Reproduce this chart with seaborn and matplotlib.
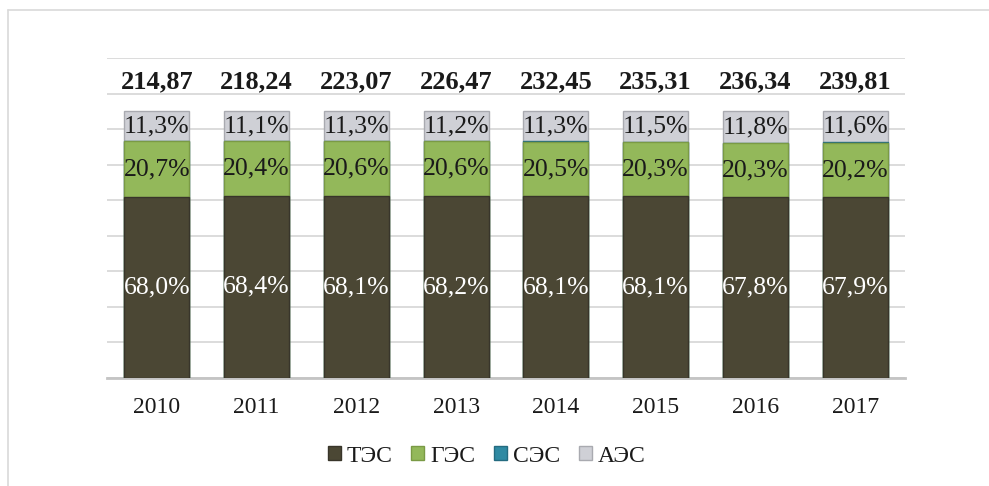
import numpy as np
import pandas as pd
import matplotlib
matplotlib.use("Agg")
import matplotlib.pyplot as plt
from matplotlib.patches import Patch
from matplotlib.lines import Line2D
import seaborn as sns

# data
years = ["2010", "2011", "2012", "2013", "2014", "2015", "2016", "2017"]
totals = ["214,87", "218,24", "223,07", "226,47", "232,45", "235,31", "236,34", "239,81"]
tes = [68.0, 68.4, 68.1, 68.2, 68.1, 68.1, 67.8, 67.9]
ges = [20.7, 20.4, 20.6, 20.6, 20.5, 20.3, 20.3, 20.2]
ses = [0.0, 0.1, 0.0, 0.0, 0.1, 0.1, 0.1, 0.3]
aes = [11.3, 11.1, 11.3, 11.2, 11.3, 11.5, 11.8, 11.6]
series_names = ["ТЭС", "ГЭС", "СЭС", "АЭС"]

colors = {"ТЭС": "#4b4734", "ГЭС": "#93b85a", "СЭС": "#2f8aa3", "АЭС": "#cfd0d6"}
edges = {"ТЭС": "#38352a", "ГЭС": "#7a9a45", "СЭС": "#246b80", "АЭС": "#a9aab0"}

df = pd.DataFrame({"year": years, "ТЭС": tes, "ГЭС": ges, "СЭС": ses, "АЭС": aes})
for c in series_names:
    df[c] = df[c] / 100
# cumulative tops for stacking
df["c_tes"] = df["ТЭС"]
df["c_ges"] = df["c_tes"] + df["ГЭС"]
df["c_ses"] = df["c_ges"] + df["СЭС"]
df["c_aes"] = df["c_ses"] + df["АЭС"]
# scale so each bar fills exactly 100%
s = df["c_aes"]
for c in ["c_tes", "c_ges", "c_ses", "c_aes"]:
    df[c] = df[c] / s

sns.set_style("white")
plt.rcParams["font.family"] = ["Liberation Serif", "DejaVu Serif"]

fig = plt.figure(figsize=(9.89, 4.86), dpi=100)
ax = fig.add_axes([107 / 989, 1 - 378 / 486, (905 - 107) / 989, (378 - 58) / 486])

for col, name in [("c_aes", "АЭС"), ("c_ses", "СЭС"), ("c_ges", "ГЭС"), ("c_tes", "ТЭС")]:
    sns.barplot(data=df, x="year", y=col, color=colors[name], saturation=1,
                width=0.65, errorbar=None, edgecolor=edges[name], linewidth=1,
                ax=ax, zorder=3)

ax.set_ylim(0, 1.2)
ax.set_xlim(-0.5, len(years) - 0.5)
ax.set_yticks(np.linspace(0, 1.2, 10))
ax.set_yticklabels([])
ax.tick_params(axis="y", length=0)
ax.tick_params(axis="x", length=0, labelsize=17, pad=14, colors="#1a1a1a")
ax.grid(axis="y", color="#d9d9d9", linewidth=1.3, zorder=0)
ax.set_xlabel("")
ax.set_ylabel("")
for sp in ["top", "left", "right"]:
    ax.spines[sp].set_visible(False)
ax.spines["bottom"].set_color("#c4c4c4")
ax.spines["bottom"].set_linewidth(2)

def fmt(v):
    return f"{v:.1f}%".replace(".", ",")

for i in range(len(years)):
    t, g, a = df.loc[i, "c_tes"], df.loc[i, "c_ges"], df.loc[i, "c_aes"]
    ax.text(i, t / 2, fmt(tes[i]), ha="center", va="center", color="white", fontsize=18.5, zorder=5)
    ax.text(i, (t + g) / 2, fmt(ges[i]), ha="center", va="center", color="#1a1a1a", fontsize=18.5, zorder=5)
    ax.text(i, (df.loc[i, "c_ses"] + a) / 2, fmt(aes[i]), ha="center", va="center", color="#1a1a1a", fontsize=18.5, zorder=5)
    ax.text(i, 1.11, totals[i], ha="center", va="center", color="#1a1a1a", fontsize=19, fontweight="bold", zorder=5)

handles = [Patch(facecolor=colors[n], edgecolor=edges[n]) for n in series_names]
leg = fig.legend(handles, series_names, loc="center", bbox_to_anchor=(0.492, 1 - 456 / 486), ncol=4,
                 frameon=False, prop={"family": "Liberation Serif", "size": 17}, handlelength=0.55,
                 handleheight=0.55, handletextpad=0.25, columnspacing=0.8, labelcolor="#1a1a1a")

# chart area border (left and top visible)
fig.add_artist(Line2D([8 / 989, 8 / 989], [0, 1 - 10 / 486], transform=fig.transFigure, color="#d9d9d9", linewidth=1.2))
fig.add_artist(Line2D([8 / 989, 1], [1 - 10 / 486, 1 - 10 / 486], transform=fig.transFigure, color="#d9d9d9", linewidth=1.2))

fig.savefig("out.png", dpi=100)
